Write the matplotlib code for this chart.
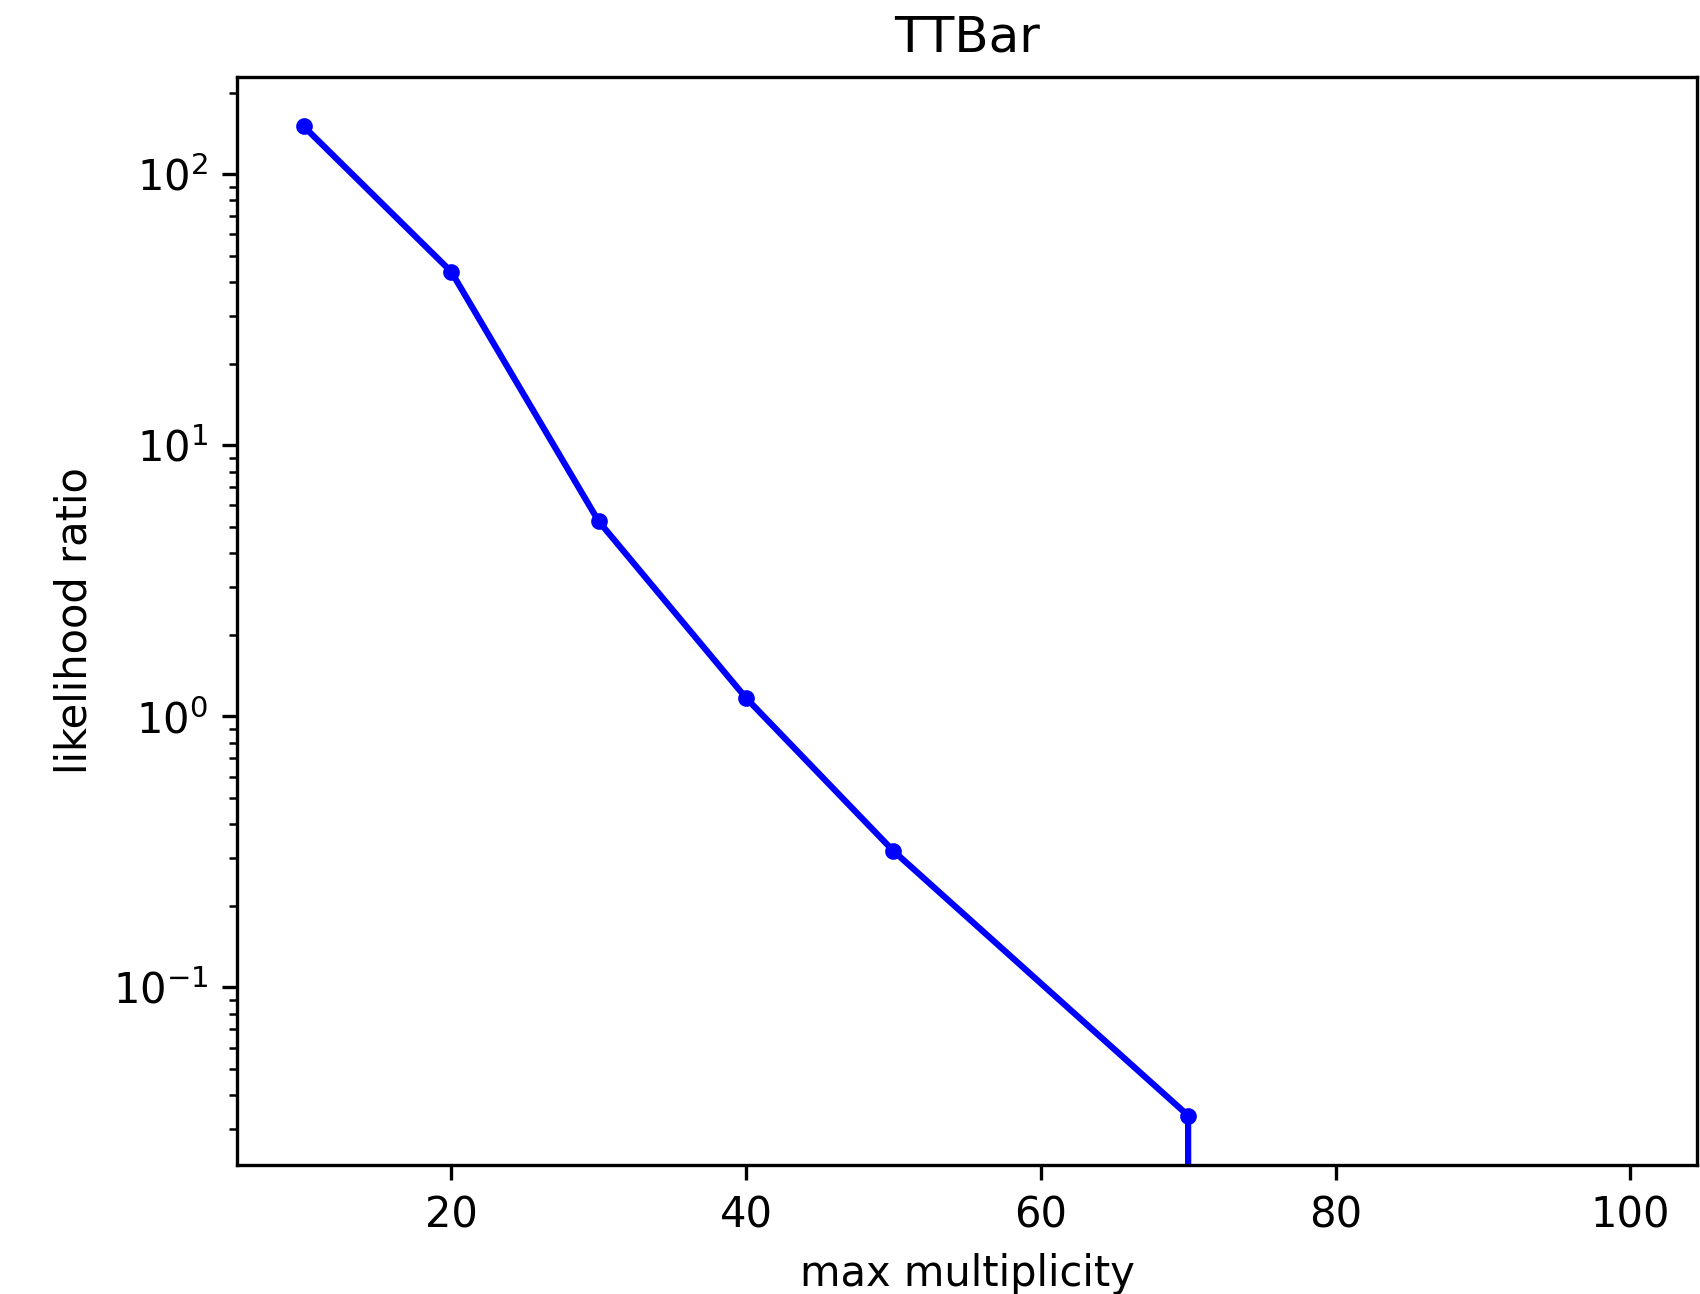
import matplotlib
matplotlib.use("Agg")
import matplotlib.pyplot as plt

# max multiplicity vs likelihood ratio (zeros beyond 70)
max_mult = [10, 20, 30, 40, 50, 70, 80, 90, 100]
lik_ratio = [150.0, 43.7, 5.25, 1.17, 0.319, 0.0337, 0.0, 0.0, 0.0]

fig = plt.figure(figsize=(1700 / 300, 1294 / 300), dpi=300)
ax = fig.add_subplot(111)
fig.subplots_adjust(left=0.1397, right=0.998, top=0.9405, bottom=0.0997)

ax.plot(max_mult, lik_ratio, 'b.-')
ax.set_yscale('log')
ax.set_title("TTBar")
ax.set_xlabel("max multiplicity")
ax.set_ylabel("likelihood ratio")

fig.savefig("out.png", dpi=300)
